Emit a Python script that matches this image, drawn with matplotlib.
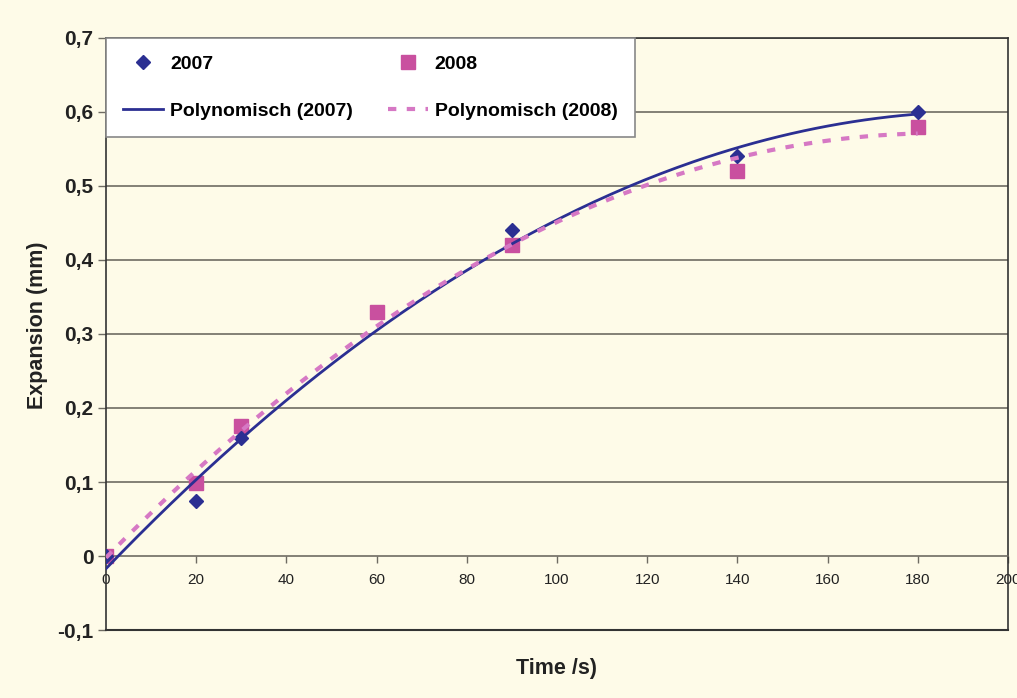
import matplotlib
matplotlib.use('Agg')
import matplotlib.pyplot as plt
from matplotlib.ticker import FuncFormatter
import numpy as np

plt.rcParams['font.family'] = ['Liberation Sans', 'DejaVu Sans']

# Données
t_2007 = [0, 20, 30, 90, 140, 180]
exp_2007 = [0.0, 0.075, 0.16, 0.44, 0.54, 0.60]
t_2008 = [0, 20, 30, 60, 90, 140, 180]
exp_2008 = [0.0, 0.098, 0.175, 0.33, 0.42, 0.52, 0.58]

col_2007 = '#2B2F92'
col_2008 = '#C9509F'
col_fit_2008 = '#D678C4'
bg = '#FEFBE8'

fig = plt.figure(figsize=(10.17, 6.98), dpi=100, facecolor=bg)
ax = fig.add_axes([0.1042, 0.0974, 0.8869, 0.8482])
ax.set_facecolor(bg)

# Courbes de tendance polynomiales (ordre 2), comme dans Excel
xs = np.linspace(0, 180, 200)
p07 = np.polyfit(t_2007, exp_2007, 2)
p08 = np.polyfit(t_2008, exp_2008, 2)

for yv in np.arange(0.1, 0.71, 0.1):
    ax.axhline(yv, color='#6E6B62', linewidth=1.2, zorder=1)

h1, = ax.plot(t_2007, exp_2007, 'D', color=col_2007, markersize=7, label='2007', zorder=4)
h2, = ax.plot(t_2008, exp_2008, 's', color=col_2008, markersize=9.5, label='2008', zorder=3)
h3, = ax.plot(xs, np.polyval(p07, xs), '-', color=col_2007, linewidth=2,
              label='Polynomisch (2007)', zorder=5)
h4, = ax.plot(xs, np.polyval(p08, xs), '--', color=col_fit_2008, linewidth=3, dashes=(2, 2.5),
              label='Polynomisch (2008)', zorder=5)

ax.set_xlim(0, 200)
ax.set_ylim(-0.1, 0.7)
ax.set_xticks(range(0, 201, 20))
ax.set_yticks(np.arange(-0.1, 0.71, 0.1))


def fmt_y(v, pos):
    if abs(v) < 1e-9:
        return '0'
    return ('%.1f' % v).replace('.', ',')


ax.yaxis.set_major_formatter(FuncFormatter(fmt_y))

ax.spines['bottom'].set_position(('data', 0))
ax.spines['bottom'].set_color('#6E6B62')
ax.spines['bottom'].set_linewidth(1.2)
for s in ['left', 'right', 'top']:
    ax.spines[s].set_color('#333333')
    ax.spines[s].set_linewidth(1.2)
ax.axhline(-0.1, color='#333333', linewidth=1.5, clip_on=False, zorder=6)

ax.tick_params(axis='x', direction='out', length=5, width=1, color='#6E6B62',
               labelsize=11, labelcolor='#222222', pad=7)
ax.tick_params(axis='y', direction='out', length=6, width=1, color='#6E6B62',
               labelsize=15, labelcolor='#222222', pad=3)
for lbl in ax.get_yticklabels():
    lbl.set_fontweight('bold')

ax.set_xlabel('Time /s)', fontsize=15.5, fontweight='bold', color='#222222')
ax.xaxis.set_label_coords(0.5, -0.047)
ax.set_ylabel('Expansion (mm)', fontsize=15.5, fontweight='bold', color='#222222')
ax.yaxis.set_label_coords(-0.064, 0.515)

leg = ax.legend(handles=[h1, h3, h2, h4], loc='upper left', bbox_to_anchor=(0.0, 1.0), ncol=2,
                frameon=True, fancybox=False, framealpha=1, edgecolor='#888888',
                prop={'weight': 'bold', 'size': 14}, columnspacing=1.8,
                handlelength=2.05, handletextpad=0.35, labelspacing=1.5,
                borderpad=0.9, borderaxespad=0)
leg.get_frame().set_linewidth(1.2)
leg.set_zorder(10)

fig.savefig('out.png', dpi=100, facecolor=bg)
